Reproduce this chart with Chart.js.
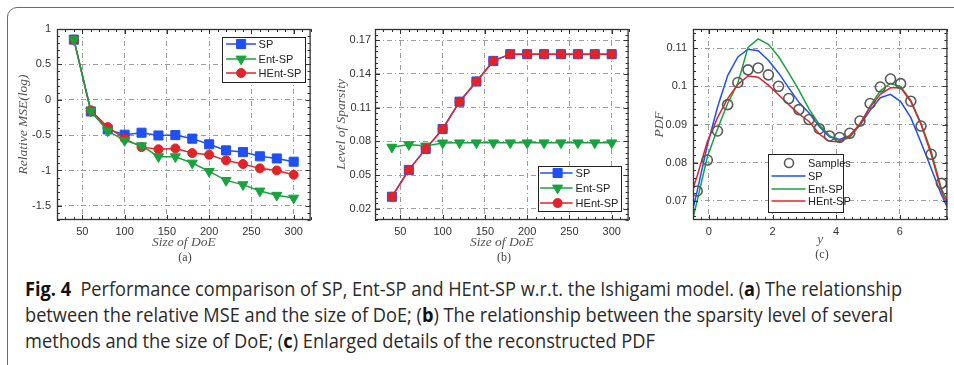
<!DOCTYPE html>
<html>
<head>
<meta charset="utf-8">
<script src="https://cdn.jsdelivr.net/npm/chart.js@4.4.0/dist/chart.umd.min.js"></script>
<style>
  body { margin: 0; background: #fff; }
  #fig { position: relative; width: 954px; height: 365px; overflow: hidden; background: #fff; }
  .frame { position: absolute; left: 7px; top: 7px; width: 1000px; height: 500px; border: 1.5px solid #6b6b6b; border-radius: 10px; }
  .panel { position: absolute; top: 0; }
  .sub { position: absolute; top: 250px; width: 60px; text-align: center; font: 12px "Liberation Serif", serif; color: #444; }
  .cap { position: absolute; left: 25px; white-space: nowrap; font: 19.5px "Open Sans", sans-serif; color: #2a2a2a; transform-origin: 0 0; }
  .cap b { font-weight: 700; color: #111; }
</style>
</head>
<body>
<div id="fig">
  <div class="frame"></div>
  <canvas class="panel" id="chart-a" width="318" height="270" style="left:0"></canvas>
  <canvas class="panel" id="chart-b" width="318" height="270" style="left:318px"></canvas>
  <canvas class="panel" id="chart-c" width="318" height="270" style="left:636px"></canvas>
  <div class="sub" style="left:155px">(a)</div>
  <div class="sub" style="left:474px">(b)</div>
  <div class="sub" style="left:792px;top:247px">(c)</div>
  <div class="cap" data-w="877" style="top:275px"><b>Fig. 4</b>&nbsp; Performance comparison of SP, Ent-SP and HEnt-SP w.r.t. the Ishigami model. (<b>a</b>) The relationship</div>
  <div class="cap" data-w="868" style="top:301px">between the relative MSE and the size of DoE; (<b>b</b>) The relationship between the sparsity level of several</div>
  <div class="cap" data-w="630" style="top:327px">methods and the size of DoE; (<b>c</b>) Enlarged details of the reconstructed PDF</div>
</div>
<script>
// (a) relative MSE vs size of DoE
const doeSize = [40, 60, 80, 100, 120, 140, 160, 180, 200, 220, 240, 260, 280, 300];
const mseSP = [0.85, -0.165, -0.42, -0.494, -0.466, -0.505, -0.5, -0.55, -0.63, -0.716, -0.74, -0.8, -0.83, -0.876];
const mseEntSP = [0.85, -0.16, -0.44, -0.575, -0.65, -0.805, -0.805, -0.895, -1.013, -1.14, -1.2, -1.29, -1.35, -1.39];
const mseHEntSP = [0.85, -0.15, -0.387, -0.55, -0.67, -0.7, -0.688, -0.754, -0.777, -0.857, -0.909, -0.97, -0.999, -1.06];

// (b) level of sparsity vs size of DoE
const sparsitySP = [0.0307, 0.0546, 0.0733, 0.091, 0.1153, 0.1333, 0.1516, 0.1576, 0.1576, 0.1576, 0.1576, 0.1576, 0.1576, 0.1576];
const sparsityEntSP = [0.0748, 0.0771, 0.0759, 0.0786, 0.0787, 0.0787, 0.0787, 0.0787, 0.0787, 0.0787, 0.0787, 0.0787, 0.0787, 0.0787];
const sparsityHEntSP = [0.0307, 0.0546, 0.0733, 0.091, 0.1153, 0.1333, 0.1516, 0.1576, 0.1576, 0.1576, 0.1576, 0.1576, 0.1576, 0.1576];

// (c) reconstructed PDF
const sampleX = [-0.37, -0.05, 0.27, 0.59, 0.91, 1.23, 1.55, 1.87, 2.19, 2.51, 2.83, 3.15, 3.47, 3.79, 4.11, 4.43, 4.75, 5.07, 5.39, 5.71, 6.03, 6.35, 6.67, 6.99, 7.31];
const samplePDF = [0.0726, 0.0807, 0.0883, 0.0952, 0.1010, 0.1043, 0.1048, 0.1030, 0.1000, 0.0968, 0.0939, 0.0913, 0.0889, 0.0870, 0.0866, 0.0877, 0.0909, 0.0955, 0.0998, 0.1019, 0.1007, 0.0961, 0.0896, 0.0822, 0.0746];
const curveX = [-0.5, -0.37, -0.05, 0.27, 0.59, 0.91, 1.23, 1.55, 1.87, 2.19, 2.51, 2.83, 3.15, 3.47, 3.79, 4.11, 4.43, 4.75, 5.07, 5.39, 5.71, 6.03, 6.35, 6.67, 6.99, 7.31, 7.5];
const pdfSP = [0.068, 0.0725, 0.0845, 0.0945, 0.1028, 0.1077, 0.1097, 0.1093, 0.1068, 0.1035, 0.0996, 0.0958, 0.093, 0.0895, 0.0868, 0.0861, 0.0871, 0.0898, 0.0937, 0.097, 0.0979, 0.096, 0.0918, 0.0853, 0.0785, 0.0716, 0.0683];
const pdfEntSP = [0.0655, 0.07, 0.0815, 0.0888, 0.0955, 0.1008, 0.1102, 0.1124, 0.111, 0.1078, 0.1035, 0.099, 0.094, 0.09, 0.0871, 0.0857, 0.0866, 0.09, 0.0948, 0.0988, 0.1008, 0.0999, 0.0963, 0.0903, 0.083, 0.0732, 0.07];
const pdfHEntSP = [0.0733, 0.0765, 0.0855, 0.0918, 0.0968, 0.1005, 0.1027, 0.1024, 0.1003, 0.0978, 0.0952, 0.0928, 0.0908, 0.0875, 0.0856, 0.0855, 0.0871, 0.0902, 0.0945, 0.0979, 0.0996, 0.0996, 0.096, 0.09, 0.0822, 0.0726, 0.069];

// tick labels
const xTicksDoE = [50, 100, 150, 200, 250, 300];
const yTicksMSE = [-1.5, -1, -0.5, 0, 0.5, 1];
const yTicksSparsity = [0.02, 0.05, 0.08, 0.11, 0.14, 0.17];
const xTicksPDF = [0, 2, 4, 6];
const yTicksPDF = [0.07, 0.08, 0.09, 0.1, 0.11];

const BLUE = '#1f4ff5';
const GREEN = '#17a33d';
const RED = '#e0242a';

Chart.defaults.font.family = '"Liberation Sans", Arial, sans-serif';
Chart.defaults.animation = false;

const pts = (xs, ys) => xs.map((x, i) => ({ x: x, y: ys[i] }));

// matlab style box with inward ticks on all four sides
const boxPlugin = {
  id: 'box',
  afterDatasetsDraw(chart, args, o) {
    const { ctx, chartArea: a } = chart;
    const sx = chart.scales.x, sy = chart.scales.y;
    ctx.save();
    ctx.strokeStyle = '#333';
    ctx.lineWidth = 1;
    ctx.beginPath();
    const steps = (min, max, step) => {
      const out = [];
      for (let k = Math.ceil(min / step - 1e-9); k * step <= max + 1e-9; k++) out.push(k * step);
      return out;
    };
    const xMark = (v, len) => {
      const p = Math.round(sx.getPixelForValue(v)) + 0.5;
      ctx.moveTo(p, a.bottom); ctx.lineTo(p, a.bottom - len);
      ctx.moveTo(p, a.top); ctx.lineTo(p, a.top + len);
    };
    const yMark = (v, len) => {
      const p = Math.round(sy.getPixelForValue(v)) + 0.5;
      ctx.moveTo(a.left, p); ctx.lineTo(a.left + len, p);
      ctx.moveTo(a.right, p); ctx.lineTo(a.right - len, p);
    };
    steps(sx.min, sx.max, o.xMinor).forEach(v => xMark(v, 3));
    steps(sy.min, sy.max, o.yMinor).forEach(v => yMark(v, 3));
    sx.ticks.forEach(t => xMark(t.value, 5));
    sy.ticks.forEach(t => yMark(t.value, 5));
    ctx.stroke();
    ctx.lineWidth = 1.3;
    ctx.strokeRect(a.left + 0.5, a.top + 0.5, a.width - 1, a.height - 1);
    ctx.restore();
  }
};

// boxed legend with line + marker samples
const legendPlugin = {
  id: 'boxLegend',
  afterDraw(chart, args, o) {
    if (!o.w) return;
    const { ctx, chartArea: a } = chart;
    const x0 = o.right != null ? a.right - o.right - o.w : a.left + o.left;
    const y0 = o.bottom != null ? a.bottom - o.bottom - o.h : a.top + o.top;
    ctx.save();
    ctx.fillStyle = '#fff';
    ctx.fillRect(x0, y0, o.w, o.h);
    ctx.strokeStyle = '#222';
    ctx.lineWidth = 1;
    ctx.strokeRect(Math.round(x0) + 0.5, Math.round(y0) + 0.5, o.w, o.h);
    chart.data.datasets.forEach((ds, i) => {
      const y = y0 + o.rows[i];
      if (ds.showLine !== false) {
        ctx.strokeStyle = ds.borderColor;
        ctx.lineWidth = ds.borderWidth;
        ctx.beginPath();
        ctx.moveTo(x0 + o.line[0], y);
        ctx.lineTo(x0 + o.line[1], y);
        ctx.stroke();
      }
      if (ds.pointRadius > 0) {
        ctx.fillStyle = ds.pointBackgroundColor;
        ctx.strokeStyle = ds.pointBorderColor;
        ctx.lineWidth = ds.pointBorderWidth;
        Chart.helpers.drawPoint(ctx, {
          pointStyle: ds.pointStyle, rotation: ds.pointRotation || 0,
          radius: o.radius || ds.pointRadius, borderWidth: ds.pointBorderWidth
        }, x0 + o.mark, y);
      }
      ctx.fillStyle = '#222';
      ctx.font = '11px "Liberation Sans", Arial, sans-serif';
      ctx.textBaseline = 'middle';
      ctx.fillText(ds.label, x0 + o.text, y + 0.5);
    });
    ctx.restore();
  }
};

const tickFont = { size: 11 };
const titleFont = { family: '"Liberation Serif", "Times New Roman", serif', style: 'italic', size: 13.5 };

function axes(xr, yr, xTicks, yTicks, xTitle, yTitle, yPad, xTitlePad) {
  return {
    x: {
      type: 'linear', min: xr[0], max: xr[1],
      afterBuildTicks: s => { s.ticks = xTicks.map(v => ({ value: v })); },
      afterFit: s => { s.height = 50; },
      grid: { color: '#9c9c9c', lineWidth: 1, drawTicks: false },
      border: { display: false, dash: [5, 3, 1, 3] },
      ticks: { padding: 5, color: '#333', font: tickFont, maxRotation: 0, autoSkip: false, callback: v => String(v) },
      title: { display: true, text: xTitle, font: titleFont, color: '#555', padding: { top: 0, bottom: xTitlePad } }
    },
    y: {
      type: 'linear', min: yr[0], max: yr[1],
      afterBuildTicks: s => { s.ticks = yTicks.map(v => ({ value: v })); },
      afterFit: s => { s.width = 57; },
      grid: { color: '#9c9c9c', lineWidth: 1, drawTicks: false },
      border: { display: false, dash: [5, 3, 1, 3] },
      ticks: { padding: yPad, color: '#333', font: tickFont, autoSkip: false, callback: v => String(v) },
      title: { display: true, text: yTitle, font: titleFont, color: '#555', padding: { top: 15, bottom: 0 } }
    }
  };
}

function markerSet(label, xs, ys, color, style, radius, rotation, order) {
  return {
    label: label, data: pts(xs, ys), order: order,
    borderColor: color, borderWidth: 1.5,
    pointStyle: style, pointRadius: radius, pointRotation: rotation,
    pointBackgroundColor: color, pointBorderColor: color, pointBorderWidth: 1,
    pointHoverRadius: radius
  };
}

new Chart(document.getElementById('chart-a'), {
  type: 'line',
  data: {
    datasets: [
      markerSet('SP', doeSize, mseSP, BLUE, 'rect', 6.4, 0, 2),
      markerSet('Ent-SP', doeSize, mseEntSP, GREEN, 'triangle', 5.8, 180, 0),
      markerSet('HEnt-SP', doeSize, mseHEntSP, RED, 'circle', 4.5, 0, 1)
    ]
  },
  options: {
    responsive: false,
    layout: { padding: { top: 29, right: 6, left: 0, bottom: 0 } },
    scales: axes([20, 320], [-1.7, 1], xTicksDoE, yTicksMSE, 'Size of DoE', 'Relative MSE(log)', 6, 19),
    plugins: {
      legend: { display: false }, tooltip: { enabled: false },
      box: { xMinor: 10, yMinor: 0.1 },
      boxLegend: { w: 83, h: 45, right: 6, top: 8, rows: [7, 22, 36], line: [4.5, 34.5], mark: 19.5, text: 37 }
    }
  },
  plugins: [boxPlugin, legendPlugin]
});

new Chart(document.getElementById('chart-b'), {
  type: 'line',
  data: {
    datasets: [
      markerSet('SP', doeSize, sparsitySP, BLUE, 'rect', 6.4, 0, 2),
      markerSet('Ent-SP', doeSize, sparsityEntSP, GREEN, 'triangle', 5.8, 180, 1),
      markerSet('HEnt-SP', doeSize, sparsityHEntSP, RED, 'circle', 4.5, 0, 0)
    ]
  },
  options: {
    responsive: false,
    layout: { padding: { top: 29, right: 3, left: 0, bottom: 0 } },
    scales: axes([20, 320], [0.01, 0.18], xTicksDoE, yTicksSparsity, 'Size of DoE', 'Level of Sparsity', 4, 19),
    plugins: {
      legend: { display: false }, tooltip: { enabled: false },
      box: { xMinor: 10, yMinor: 0.005 },
      boxLegend: { w: 83, h: 45, right: 8, bottom: 9, rows: [7, 22, 37], line: [2.5, 35], mark: 20, text: 38 }
    }
  },
  plugins: [boxPlugin, legendPlugin]
});

new Chart(document.getElementById('chart-c'), {
  type: 'scatter',
  data: {
    datasets: [
      {
        label: 'Samples', data: pts(sampleX, samplePDF), showLine: false, order: 0,
        pointStyle: 'circle', pointRadius: 5, pointHoverRadius: 5,
        pointBackgroundColor: 'rgba(0,0,0,0)', pointBorderColor: '#5a5a5a', pointBorderWidth: 1.6,
        borderColor: '#5a5a5a', borderWidth: 1.6
      },
      { label: 'SP', data: pts(curveX, pdfSP), showLine: true, borderColor: BLUE, borderWidth: 1.5, pointRadius: 0, order: 3 },
      { label: 'Ent-SP', data: pts(curveX, pdfEntSP), showLine: true, borderColor: GREEN, borderWidth: 1.5, pointRadius: 0, order: 2 },
      { label: 'HEnt-SP', data: pts(curveX, pdfHEntSP), showLine: true, borderColor: RED, borderWidth: 1.5, pointRadius: 0, order: 1 }
    ]
  },
  options: {
    responsive: false,
    layout: { padding: { top: 29, right: 2, left: 0, bottom: 0 } },
    scales: axes([-0.5, 7.5], [0.065, 0.115], xTicksPDF, yTicksPDF, 'y', 'PDF', 6, 22),
    plugins: {
      legend: { display: false }, tooltip: { enabled: false },
      box: { xMinor: 0.25, yMinor: 0.002 },
      boxLegend: { w: 75, h: 58, left: 75, top: 125, rows: [9, 22, 35, 47], line: [3.5, 37.5], mark: 21, text: 40, radius: 4.5 }
    }
  },
  plugins: [boxPlugin, legendPlugin]
});

// squeeze caption lines to the measured widths of the original typeset lines
function fitCaption() {
  document.querySelectorAll('.cap').forEach(el => {
    el.style.transform = 'none';
    const w = el.getBoundingClientRect().width;
    el.style.transform = 'scaleX(' + (Number(el.dataset.w) / w) + ')';
  });
}
fitCaption();
if (document.fonts) document.fonts.ready.then(fitCaption);
</script>
</body>
</html>
